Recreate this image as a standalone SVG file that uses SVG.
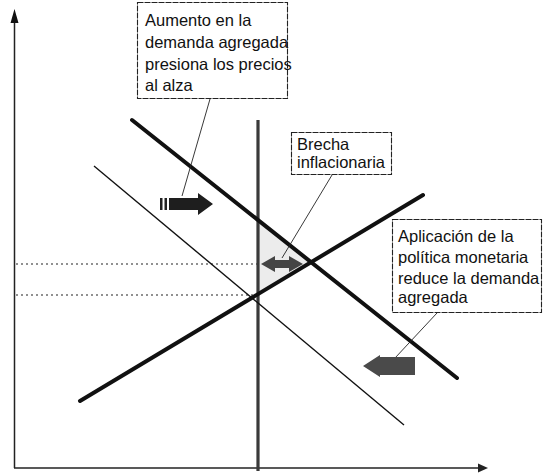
<svg xmlns="http://www.w3.org/2000/svg" width="543" height="473" viewBox="0 0 543 473">
<style>
.lbl{font-family:"Liberation Sans",Arial,sans-serif;font-size:16.5px;fill:#111}
.box{fill:#fff;stroke:#222;stroke-width:1.1;stroke-dasharray:6 1}
.dot{stroke:#222;stroke-width:1.2;stroke-dasharray:2 3;fill:none}
.lead{stroke:#222;stroke-width:0.9;fill:none}
</style>
<rect width="543" height="473" fill="#fff"/>
<g id="shading">
<polygon points="258,220 311,262 258,295" fill="#ececec"/>
</g>
<g id="axes">
<line x1="14.5" y1="22" x2="14.5" y2="468" stroke="#222" stroke-width="1.5"/>
<polygon points="14.5,9 10.5,23 18.5,23" fill="#111"/>
<line x1="14" y1="468" x2="482" y2="468" stroke="#222" stroke-width="1.5"/>
<polygon points="488,468 478,463.5 478,472.5" fill="#222"/>
</g>
<g id="guides">
<line class="dot" x1="16" y1="264" x2="258" y2="264"/>
<line class="dot" x1="16" y1="295" x2="258" y2="295"/>
</g>
<g id="curves">
<line id="lras" x1="258" y1="120" x2="258" y2="471" stroke="#3a3a3a" stroke-width="3.2"/>
<line id="ad1" x1="94" y1="166" x2="404" y2="425" stroke="#111" stroke-width="1.4"/>
<line id="ad2" x1="132" y1="120" x2="457" y2="378" stroke="#111" stroke-width="4" stroke-linecap="round"/>
<line id="sras" x1="80" y1="401" x2="423" y2="195" stroke="#111" stroke-width="4" stroke-linecap="round"/>
</g>
<g id="connectors">
<line class="lead" x1="210" y1="99" x2="182" y2="196"/>
<line class="lead" x1="332" y1="175" x2="282" y2="258"/>
<line class="lead" x1="437" y1="313" x2="395" y2="358"/>
</g>
<g id="arrow-right">
<rect x="160" y="198" width="2.5" height="12" fill="#222"/>
<rect x="164.5" y="198" width="2.5" height="12" fill="#222"/>
<polygon points="169,198 198,198 198,193 213,204 198,215 198,210 169,210" fill="#1e1e1e"/>
</g>
<g id="arrow-gap">
<polygon points="261,264 275,256 275,260 289,260 289,256 303,264 289,272 289,268 275,268 275,272" fill="#444"/>
</g>
<g id="arrow-left">
<polygon points="363,366 380,355 380,357 415,357 415,375 380,375 380,377" fill="#4a4a4a"/>
</g>
<g id="box-aumento">
<rect class="box" x="137.5" y="2.5" width="150" height="96"/>
<text class="lbl" x="145" y="26">Aumento en la</text>
<text class="lbl" x="145" y="48">demanda agregada</text>
<text class="lbl" x="145" y="70">presiona los precios</text>
<text class="lbl" x="145" y="91">al alza</text>
</g>
<g id="box-brecha">
<rect class="box" x="291.5" y="132.5" width="100" height="42"/>
<text class="lbl" x="297" y="150">Brecha</text>
<text class="lbl" x="297" y="168">inflacionaria</text>
</g>
<g id="box-aplicacion">
<rect class="box" x="392.5" y="219.5" width="149" height="93"/>
<text class="lbl" x="398" y="242">Aplicación de la</text>
<text class="lbl" x="398" y="263">política monetaria</text>
<text class="lbl" x="398" y="284">reduce la demanda</text>
<text class="lbl" x="398" y="303">agregada</text>
</g>
</svg>
